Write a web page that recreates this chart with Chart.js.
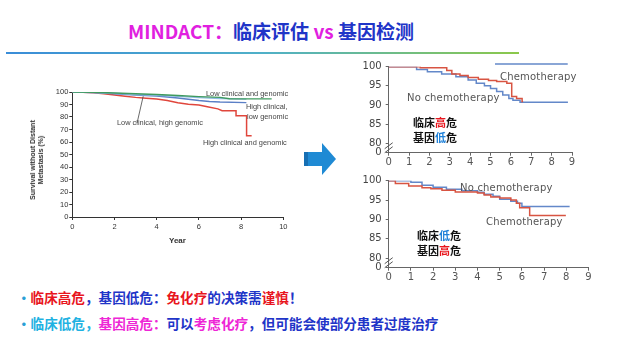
<!DOCTYPE html>
<html>
<head>
<meta charset="utf-8">
<script src="https://cdn.jsdelivr.net/npm/chart.js@4.4.0/dist/chart.umd.min.js"></script>
<style>
  body { margin: 0; width: 621px; height: 337px; background: #fff; position: relative; overflow: hidden;
         font-family: "Noto Sans CJK SC", "Noto Sans", sans-serif; }
  .abs { position: absolute; white-space: nowrap; }
  canvas { position: absolute; }
  .title { left: 128px; top: 19px; font-size: 19px; font-weight: bold; line-height: 24px; }
  .mag { color: #e11fe0; }
  .blu { color: #1f35c8; }
  .red { color: #e8161e; }
  .cya { color: #1fb2e2; }
  .pnk { color: #ee26d6; }
  .rule { left: 6px; top: 52px; width: 513px; height: 2px; background: linear-gradient(to right, #3a8dd8, #4fb0c8 50%, #8cc84a); }
  .lab { font-family: "Liberation Sans", sans-serif; font-size: 7.4px; color: #444; line-height: 9px; }
  .rlab { font-family: "DejaVu Sans", sans-serif; font-size: 10px; color: #555; line-height: 12px; letter-spacing: 0.2px; }
  .risk { font-size: 11px; font-weight: bold; color: #111; line-height: 15px; }
  .note { font-size: 13.6px; font-weight: bold; line-height: 20px; left: 17px; }
  .dot { color: #2a9fd6; }
</style>
</head>
<body>
<div class="abs title"><span class="mag">MINDACT：</span><span class="blu">临床评估 </span><span class="mag">vs</span><span class="blu"> 基因检测</span></div>
<div class="abs rule"></div>

<canvas id="left" width="280" height="170" style="left:20px;top:80px"></canvas>
<canvas id="rtop" width="250" height="120" style="left:340px;top:55px"></canvas>
<canvas id="rbot" width="262" height="120" style="left:340px;top:170px"></canvas>

<!-- left chart labels -->
<div class="abs lab" style="left:206px;top:89px">Low clinical and genomic</div>
<div class="abs lab" style="left:246px;top:101.5px">High clinical,</div>
<div class="abs lab" style="left:247px;top:111.5px">low genomic</div>
<div class="abs lab" style="left:117px;top:118px">Low clinical, high genomic</div>
<div class="abs lab" style="left:203px;top:138px">High clinical and genomic</div>
<div class="abs" style="left:37px;top:160px;transform:translate(-50%,-50%) rotate(-90deg);font-family:'Liberation Sans',sans-serif;font-size:7px;font-weight:bold;color:#333;line-height:8px;text-align:center;">Survival without Distant<br>Metastasis (%)</div>
<div class="abs" style="left:169px;top:236px;font-family:'Liberation Sans',sans-serif;font-size:8px;font-weight:bold;color:#333">Year</div>

<!-- right chart labels -->
<div class="abs rlab" style="left:500px;top:71px">Chemotherapy</div>
<div class="abs rlab" style="left:407px;top:92px">No chemotherapy</div>
<div class="abs risk" style="left:413px;top:114.5px">临床<span class="red">高</span>危<br>基因<span style="color:#1e80d8">低</span>危</div>
<div class="abs rlab" style="left:460px;top:182px">No chemotherapy</div>
<div class="abs rlab" style="left:486px;top:216px">Chemotherapy</div>
<div class="abs risk" style="left:417px;top:228px">临床<span style="color:#1e80d8">低</span>危<br>基因<span class="red">高</span>危</div>

<!-- arrow -->
<svg class="abs" style="left:300px;top:140px" width="40" height="40">
  <rect x="4" y="12" width="18" height="14" fill="#1f8ad4"/>
  <rect x="4" y="12" width="4" height="14" fill="#176fb3"/>
  <polygon points="22,3 36,19 22,35" fill="#1f8ad4"/>
</svg>

<!-- notes -->
<div class="abs note" style="top:287px"><span class="dot">•</span><span class="red">临床高危</span><span class="blu">，基因低危：</span><span class="red">免化疗</span><span class="blu">的决策需</span><span class="red">谨慎</span><span class="blu">！</span></div>
<div class="abs note" style="top:313px"><span class="dot">•</span><span class="cya">临床低危，</span><span class="pnk">基因高危：</span><span class="blu">可以</span><span class="pnk">考虑化疗</span><span class="blu">，但可能会使部分患者过度治疗</span></div>

<script>
// ---- left chart: survival without distant metastasis (%) ----
const lowLowYears  = [0, 1, 2, 3, 4, 5, 6, 7, 7.45, 9.45];
const lowLowSurv   = [100, 99.8, 99.2, 98.6, 98, 97.2, 96.3, 95.7, 94.6, 94.5];
const lowHighYears = [0, 1, 2, 3, 4, 5, 6, 7, 8.25];
const lowHighSurv  = [100, 99.6, 99, 98, 97.4, 96.5, 95.5, 94.8, 94.3];
const highLowYears = [0, 1, 2, 3, 4, 5, 5.5, 6, 6.5, 7, 8.25];
const highLowSurv  = [100, 99.5, 98.6, 97.6, 96.8, 95.2, 94.2, 93.2, 92.4, 92, 91.5];
const highHighYears = [0, 0.5, 1, 1.5, 2, 2.5, 3, 3.5, 4, 4.5, 5, 5.5, 6, 6.4, 6.9, 7.1, 7.76, 7.76, 8.26, 8.26, 8.5];
const highHighSurv  = [100, 99.8, 99.4, 98.6, 97.6, 96.6, 95.7, 95, 94.4, 93.2, 91.4, 90.2, 89.6, 88.2, 86.5, 85, 85, 81, 81, 65, 65];
const leftYTicks = [0, 10, 20, 30, 40, 50, 60, 70, 80, 90, 100];
const leftXTicks = [0, 2, 4, 6, 8, 10];

// ---- right top: clinical high / genomic low ----
const topChemoYears = [0, 1.55, 2.85, 3.1, 3.5, 3.9, 4.4, 4.9, 5.3, 5.8, 6.04, 6.28, 6.55, 6.6];
const topChemoSurv  = [100, 99.7, 99, 98.1, 97.7, 97.2, 96.7, 96.4, 96.1, 95.7, 92.2, 91.7, 90.9, 90.9];
const topNoChemoYears = [0, 1.37, 1.9, 2.6, 3.3, 3.9, 4.3, 4.7, 5.0, 5.3, 5.6, 5.9, 6.1, 6.45, 8.8];
const topNoChemoSurv  = [100, 99.3, 98.7, 98.1, 97.4, 96.5, 95.7, 95, 94.3, 93.5, 92.6, 91.7, 91.2, 90.7, 90.7];
const topKeyYears = [5.22, 8.79];
const topKeySurv  = [100.7, 100.7];

// ---- right bottom: clinical low / genomic high ----
const botNoChemoYears = [0, 1.0, 1.5, 2.0, 2.6, 3.3, 4.0, 4.3, 4.7, 5.0, 5.5, 5.8, 6.0, 8.15];
const botNoChemoSurv  = [100, 99.6, 98.8, 98.3, 97.8, 97.4, 97.0, 96.5, 96.0, 95.2, 94.7, 94.2, 93.3, 93.3];
const botChemoYears = [0, 0.3, 0.9, 1.5, 1.9, 2.4, 3.0, 4.0, 4.3, 4.6, 5.0, 5.5, 5.75, 5.9, 6.35, 7.98];
const botChemoSurv  = [100, 99.3, 98.6, 98.2, 97.9, 97.5, 97.1, 96.8, 96.3, 95.8, 95.5, 95.0, 94.2, 93.0, 91.0, 91.0];

const rightYTicks = [77.5, 80, 85, 90, 95, 100];
const rightYLabels = ['0', '80', '85', '90', '95', '100'];
const rightXTicks = [0, 1, 2, 3, 4, 5, 6, 7, 8, 9];

const RED = '#e0463c', GREEN = '#3f9a5e', BLUE = '#5a7fc6', LIGHTBLUE = '#8fbde3';
const RRED = '#d85442', RBLUE = '#6388c9';

const pts = (xs, ys) => xs.map((x, i) => ({ x: x, y: ys[i] }));

// leader line from label to the low clinical / high genomic curve
const leaderLine = {
  id: 'leader',
  afterDatasetsDraw(chart) {
    const { ctx, scales } = chart;
    ctx.save();
    ctx.strokeStyle = '#444';
    ctx.lineWidth = 0.8;
    ctx.beginPath();
    ctx.moveTo(scales.x.getPixelForValue(3.07), scales.y.getPixelForValue(75.2));
    ctx.lineTo(scales.x.getPixelForValue(3.36), scales.y.getPixelForValue(96.6));
    ctx.stroke();
    ctx.restore();
  }
};

// axis break marks between 0 and 80
const axisBreak = {
  id: 'axisBreak',
  afterDraw(chart) {
    const { ctx, scales } = chart;
    const x = scales.x.left;
    const y = scales.y.getPixelForValue(78.8);
    ctx.save();
    ctx.strokeStyle = '#555';
    ctx.lineWidth = 1;
    [-2, 2].forEach(d => {
      ctx.beginPath();
      ctx.moveTo(x - 4, y + d + 3);
      ctx.lineTo(x + 4, y + d - 3);
      ctx.stroke();
    });
    ctx.restore();
  }
};

const line = (data, color, width, stepped, extra) => Object.assign({
  data: data, borderColor: color, borderWidth: width, pointRadius: 0, fill: false, stepped: stepped, tension: 0
}, extra || {});

new Chart(document.getElementById('left').getContext('2d'), {
  type: 'line',
  data: {
    datasets: [
      line(pts(lowLowYears, lowLowSurv), GREEN, 1.5, false),
      line(pts(lowHighYears, lowHighSurv), LIGHTBLUE, 1.5, false),
      line(pts(highLowYears, highLowSurv), BLUE, 1.5, false),
      line(pts(highHighYears, highHighSurv), RED, 1.5, false)
    ]
  },
  options: {
    responsive: false,
    animation: false,
    layout: { padding: { top: 12, right: 16.7, left: 0, bottom: 0 } },
    plugins: { legend: { display: false }, tooltip: { enabled: false } },
    scales: {
      x: {
        type: 'linear', min: 0, max: 10,
        afterBuildTicks: s => { s.ticks = leftXTicks.map(v => ({ value: v })); },
        afterFit: s => { s.height = 33; },
        grid: { drawOnChartArea: false, tickLength: 3, color: '#333' },
        border: { color: '#333' },
        ticks: { font: { family: 'Liberation Sans', size: 7.5 }, color: '#333', padding: 2, maxRotation: 0 }
      },
      y: {
        min: 0, max: 100,
        afterBuildTicks: s => { s.ticks = leftYTicks.map(v => ({ value: v })); },
        afterFit: s => { s.width = 52.3; },
        grid: { drawOnChartArea: false, tickLength: 3, color: '#333' },
        border: { color: '#333' },
        ticks: { font: { family: 'Liberation Sans', size: 7.5 }, color: '#333', padding: 1 }
      }
    }
  },
  plugins: [leaderLine]
});

function rightChart(id, sets, padRight, padTop) {
  return new Chart(document.getElementById(id).getContext('2d'), {
    type: 'line',
    data: { datasets: sets },
    options: {
      responsive: false,
      animation: false,
      layout: { padding: { top: padTop, right: padRight, left: 0, bottom: 0 } },
      plugins: { legend: { display: false }, tooltip: { enabled: false } },
      scales: {
        x: {
          type: 'linear', min: 0, max: 9,
          afterBuildTicks: s => { s.ticks = rightXTicks.map(v => ({ value: v })); },
          afterFit: s => { s.height = 22.3; },
          grid: { drawOnChartArea: false, tickLength: 3, color: '#666' },
          border: { color: '#666' },
          ticks: { font: { family: 'DejaVu Sans', size: 10 }, color: '#555', padding: 1, maxRotation: 0 }
        },
        y: {
          min: 77.5, max: 100,
          afterBuildTicks: s => { s.ticks = rightYTicks.map(v => ({ value: v })); },
          afterFit: s => { s.width = 48.7; },
          grid: { drawOnChartArea: false, tickLength: 3, color: '#666' },
          border: { color: '#666' },
          ticks: {
            font: { family: 'DejaVu Sans', size: 10 }, color: '#444', padding: 4,
            callback: v => rightYLabels[rightYTicks.indexOf(v)]
          }
        }
      }
    },
    plugins: [axisBreak]
  });
}

rightChart('rtop', [
  line(pts(topChemoYears, topChemoSurv), RRED, 1.5, true),
  line(pts(topNoChemoYears, topNoChemoSurv), RBLUE, 1.5, true),
  line(pts(topKeyYears, topKeySurv), RBLUE, 1.5, false, { clip: false })
], 18, 11.7);

rightChart('rbot', [
  line(pts(botChemoYears, botChemoSurv), RRED, 1.5, true),
  line(pts(botNoChemoYears, botNoChemoSurv), RBLUE, 1.5, true)
], 13.5, 10.7);
</script>
</body>
</html>
